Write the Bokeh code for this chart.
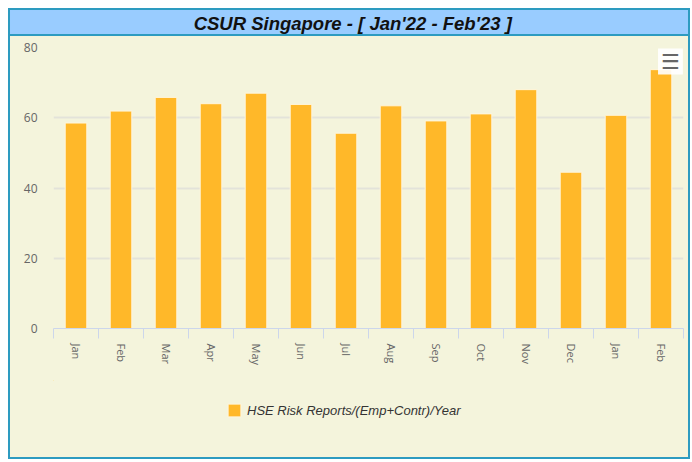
import math
from bokeh.plotting import figure
from bokeh.layouts import column
from bokeh.models import (ColumnDataSource, Range1d, FixedTicker, Legend, LegendItem,
                          LinearAxis, Grid, Label)
from bokeh.embed import file_html
from bokeh.resources import INLINE

# ---- data ----
months = ["Jan", "Feb", "Mar", "Apr", "May", "Jun", "Jul", "Aug", "Sep", "Oct", "Nov", "Dec", "Jan", "Feb"]
values = [58.5, 61.9, 65.8, 64.0, 67.0, 63.8, 55.6, 63.4, 59.1, 61.1, 68.0, 44.5, 60.7, 73.7]
series_name = "HSE Risk Reports/(Emp+Contr)/Year"
title_text = "CSUR Singapore - [ Jan'22 - Feb'23 ]"
y_ticks = [0, 20, 40, 60, 80]

BG = "#f4f4dc"
BLUE = "#99ccff"
TEAL = "#2d9bc0"
BAR = "#ffb829"
BAR_EDGE = "#fff6dc"
LABEL_FONT = "Open Sans"
W = 678
LB, RB = 43, 5


def bare(fig, fill):
    fig.axis.visible = False
    fig.grid.visible = False
    fig.background_fill_color = fill
    fig.border_fill_color = fill
    fig.outline_line_color = None


# ---- title bar ----
tfig = figure(width=W, height=26, x_range=Range1d(0, 1), y_range=Range1d(0, 1),
              toolbar_location=None, output_backend="svg",
              min_border_left=LB, min_border_right=RB, min_border_top=0, min_border_bottom=0,
              styles={"background-color": BLUE, "border-bottom": "2px solid " + TEAL})
bare(tfig, BLUE)
tfig.add_layout(Label(x=0.475, y=0.5, text=title_text, text_align="center", text_baseline="middle",
                      text_font="Liberation Sans", text_font_style="bold italic",
                      text_font_size="18.5px", text_color="#111111"))

# ---- main chart ----
xs = [i + 0.5 for i in range(len(months))]
src = ColumnDataSource(dict(x=xs, top=values, month=months))

p = figure(width=W, height=344, x_range=Range1d(0, len(months)), y_range=Range1d(0, 80),
           toolbar_location=None, output_backend="svg",
           min_border_left=LB, min_border_right=RB, min_border_top=11, min_border_bottom=52,
           x_axis_type=None, y_axis_type=None, styles={"background-color": BG})
p.background_fill_color = BG
p.border_fill_color = BG
p.outline_line_color = None

g = Grid(dimension=1, ticker=FixedTicker(ticks=y_ticks), grid_line_color="#e3e3da", grid_line_width=2)
p.add_layout(g)

r = p.vbar(x="x", top="top", width=0.48, source=src, fill_color=BAR,
           line_color=BAR_EDGE, line_width=1)

yax = LinearAxis(ticker=FixedTicker(ticks=y_ticks))
yax.axis_line_color = None
yax.major_tick_line_color = None
yax.minor_tick_line_color = None
yax.major_tick_out = 0
yax.major_label_standoff = 16
yax.major_label_text_color = "#666666"
yax.major_label_text_font = LABEL_FONT
yax.major_label_text_font_size = "12px"
p.add_layout(yax, "left")

xax = LinearAxis(ticker=FixedTicker(ticks=xs, minor_ticks=list(range(len(months) + 1))))
xax.major_label_overrides = {x: m for x, m in zip(xs, months)}
xax.axis_line_color = "#ccd6eb"
xax.axis_line_width = 1
xax.major_tick_line_color = None
xax.major_tick_out = 0
xax.minor_tick_line_color = "#ccd6eb"
xax.minor_tick_out = 10
xax.minor_tick_in = 0
xax.major_label_orientation = -math.pi / 2
xax.major_label_standoff = 5
xax.major_label_text_color = "#666666"
xax.major_label_text_font = LABEL_FONT
xax.major_label_text_font_size = "11px"
p.add_layout(xax, "below")

# export-menu button (top right)
p.add_layout(Label(x=13.71, y=76.0, text="\u2630", text_align="center", text_baseline="middle",
                   text_font="DejaVu Sans", text_font_size="21px", text_color="#666666",
                   background_fill_color="#ffffff", background_fill_alpha=0.9,
                   padding=dict(left=3, right=3, top=1, bottom=1)))

# ---- legend strip ----
lfig = figure(width=W, height=77, x_range=Range1d(100, 101), y_range=Range1d(-20, -10),
              toolbar_location=None, output_backend="svg",
              min_border_left=LB, min_border_right=RB, min_border_top=0, min_border_bottom=0,
              styles={"background-color": BG})
bare(lfig, BG)
# same series, outside this strip's ranges, so only its legend swatch shows
swatch = lfig.vbar(x="x", top="top", width=0.48, source=src, fill_color=BAR, line_color=BAR_EDGE)
legend = Legend(items=[LegendItem(label=series_name, renderers=[swatch])],
                location=(173, 39), orientation="horizontal",
                glyph_width=16, glyph_height=16, label_standoff=5,
                label_text_font="Liberation Sans", label_text_font_style="italic",
                label_text_font_size="13px", label_text_color="#333333",
                background_fill_alpha=0, border_line_color=None, margin=0, padding=0)
lfig.add_layout(legend)

layout = column(tfig, p, lfig, spacing=0, margin=(8, 0, 0, 8),
                styles={"border": "2px solid " + TEAL, "background-color": BG})

open("out.html", "w").write(file_html(layout, INLINE))
